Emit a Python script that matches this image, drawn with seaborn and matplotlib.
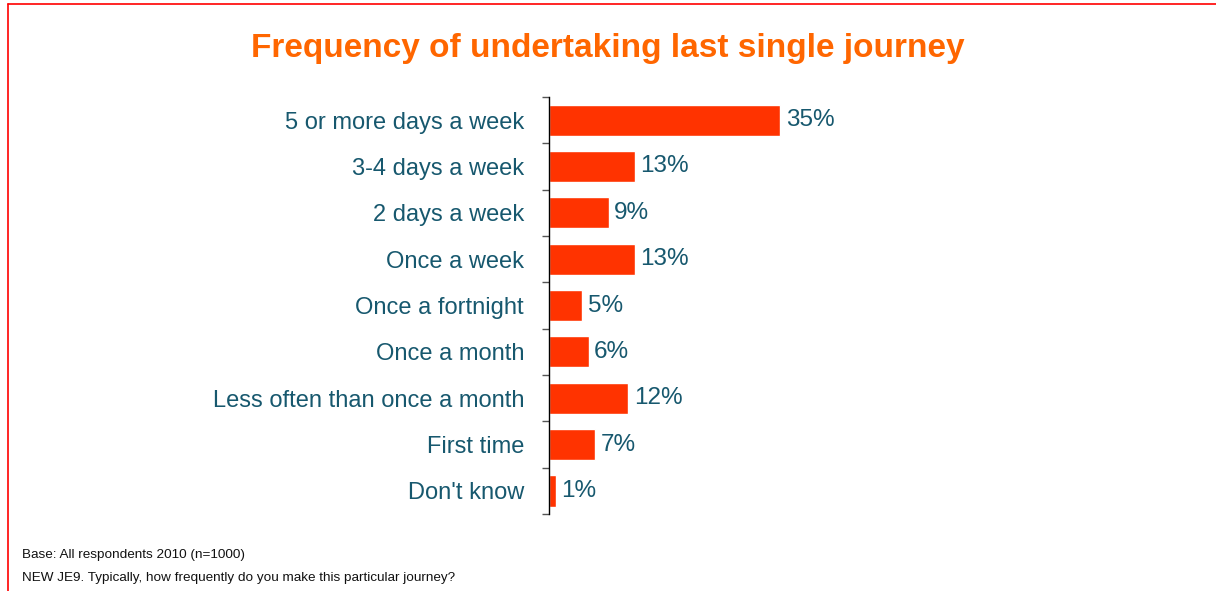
# Import modules.

import matplotlib
matplotlib.use('Agg')
import matplotlib.pyplot as plt
import seaborn as sns
from matplotlib.lines import Line2D

# Chart data.

categories = ['5 or more days a week', '3-4 days a week', '2 days a week',
              'Once a week', 'Once a fortnight', 'Once a month',
              'Less often than once a month', 'First time', "Don't know"]
percentages = [35, 13, 9, 13, 5, 6, 12, 7, 1]
value_labels = [f'{v}%' for v in percentages]

title = 'Frequency of undertaking last single journey'
footnotes = ['Base: All respondents 2010 (n=1000)',
             'NEW JE9. Typically, how frequently do you make this particular journey?']

# Styles.

sns.set_style('white')
plt.rcParams['font.family'] = ['Liberation Sans', 'DejaVu Sans']

bar_color = '#FF3300'
text_color = '#17586E'
title_color = '#FF6600'

# Draw chart.

fig = plt.figure(figsize=(12.16, 5.91), dpi=100)
ax = fig.add_axes([0.4515, 0.130, 0.40, 0.706])

sns.barplot(x=percentages, y=categories, orient='h', color=bar_color,
            width=0.67, saturation=1, ax=ax)

ax.set_xlim(0, 73.6)
ax.set_ylim(len(categories) - 0.5, -0.5)
ax.set_xlabel('')
ax.set_ylabel('')
ax.set_xticks([])

for side in ['top', 'right', 'bottom']:
    ax.spines[side].set_visible(False)
ax.spines['left'].set_color('black')
ax.spines['left'].set_linewidth(1.0)

ax.set_yticks(range(len(categories)), minor=False)
ax.set_yticks([i - 0.5 for i in range(len(categories) + 1)], minor=True)
ax.tick_params(axis='y', which='major', left=False, length=0, pad=18,
               labelsize=17, labelcolor=text_color)
ax.tick_params(axis='y', which='minor', left=True, length=5, width=1.0,
               color='#555555', direction='out')

ax.bar_label(ax.containers[0], labels=value_labels, padding=4,
             fontsize=17.5, color=text_color)

# Title and footnotes.

fig.text(0.5, 0.918, title, ha='center', va='center', fontsize=24,
         fontweight='bold', color=title_color)
fig.text(0.018, 0.061, footnotes[0], fontsize=9.7, color='#111111',
         va='center')
fig.text(0.018, 0.022, footnotes[1], fontsize=9.7, color='#111111',
         va='center')

# Red frame.

fig.add_artist(Line2D([0.0066, 0.0066], [0.0, 0.993], color='#FF0000', lw=1.2))
fig.add_artist(Line2D([0.0066, 1.0], [0.993, 0.993], color='#FF0000', lw=1.2))

fig.savefig('out.png', dpi=100)
